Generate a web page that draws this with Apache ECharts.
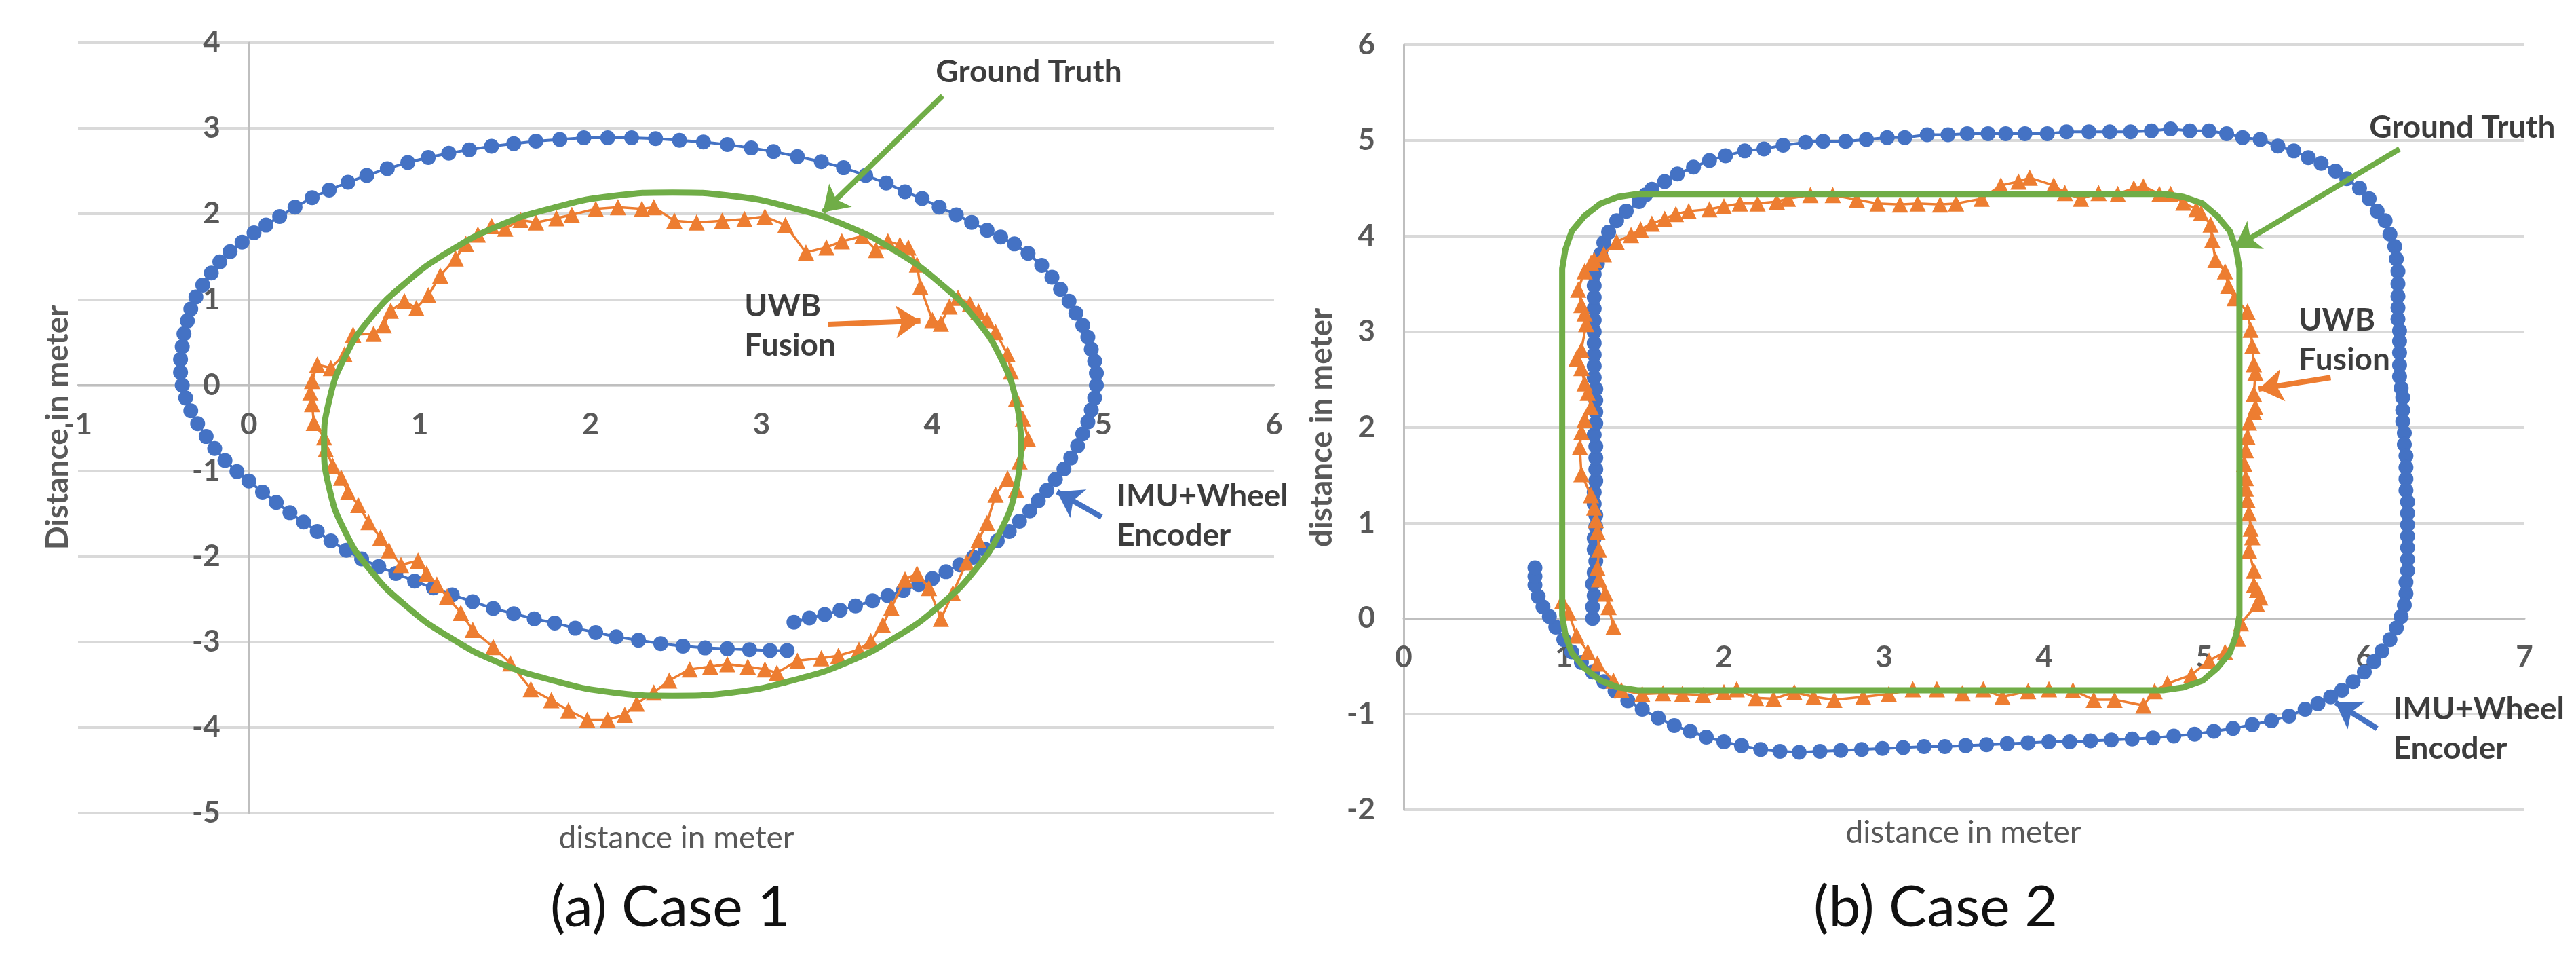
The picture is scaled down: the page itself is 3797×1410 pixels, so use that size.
<!DOCTYPE html>
<html><head><meta charset="utf-8">
<script src="https://cdn.jsdelivr.net/npm/echarts@6/dist/echarts.min.js"></script>
<style>html,body{margin:0;padding:0;background:#fff}#c{width:3797px;height:1410px}</style>
</head><body><div id="c"></div>
<script>
// ---------- Case 1 data (x, y in metres) ----------
const case1Imu = [[3.19,-2.77],[3.28,-2.72],[3.37,-2.68],[3.46,-2.63],[3.55,-2.58],[3.65,-2.52],[3.74,-2.46],[3.83,-2.40],[3.92,-2.33],[4.00,-2.26],[4.08,-2.18],[4.16,-2.10],[4.24,-2.01],[4.31,-1.92],[4.38,-1.82],[4.45,-1.71],[4.51,-1.59],[4.57,-1.47],[4.62,-1.35],[4.67,-1.23],[4.72,-1.10],[4.77,-0.98],[4.81,-0.85],[4.85,-0.71],[4.88,-0.57],[4.91,-0.43],[4.93,-0.29],[4.95,-0.15],[4.96,0.00],[4.96,0.14],[4.95,0.28],[4.93,0.42],[4.91,0.56],[4.88,0.70],[4.84,0.84],[4.80,0.98],[4.75,1.12],[4.70,1.26],[4.64,1.40],[4.56,1.54],[4.48,1.65],[4.40,1.73],[4.32,1.81],[4.23,1.90],[4.14,1.99],[4.04,2.08],[3.94,2.18],[3.84,2.26],[3.73,2.36],[3.61,2.45],[3.48,2.54],[3.35,2.61],[3.21,2.67],[3.07,2.73],[2.94,2.77],[2.80,2.81],[2.66,2.84],[2.52,2.86],[2.38,2.88],[2.24,2.89],[2.10,2.89],[1.96,2.89],[1.82,2.87],[1.68,2.85],[1.55,2.82],[1.42,2.79],[1.29,2.75],[1.17,2.71],[1.05,2.66],[0.93,2.60],[0.81,2.53],[0.69,2.45],[0.58,2.37],[0.47,2.28],[0.37,2.19],[0.27,2.08],[0.18,1.97],[0.10,1.87],[0.03,1.78],[-0.04,1.67],[-0.11,1.56],[-0.17,1.44],[-0.22,1.31],[-0.27,1.17],[-0.31,1.03],[-0.34,0.89],[-0.36,0.75],[-0.38,0.60],[-0.39,0.45],[-0.40,0.30],[-0.40,0.15],[-0.39,0.00],[-0.37,-0.15],[-0.34,-0.30],[-0.30,-0.45],[-0.25,-0.60],[-0.20,-0.74],[-0.14,-0.88],[-0.07,-1.01],[0.00,-1.12],[0.08,-1.25],[0.16,-1.37],[0.24,-1.49],[0.32,-1.60],[0.40,-1.71],[0.48,-1.82],[0.57,-1.93],[0.66,-2.03],[0.76,-2.12],[0.86,-2.20],[0.97,-2.29],[1.08,-2.37],[1.19,-2.45],[1.31,-2.53],[1.43,-2.61],[1.55,-2.67],[1.67,-2.73],[1.79,-2.78],[1.91,-2.84],[2.03,-2.89],[2.15,-2.94],[2.28,-2.98],[2.41,-3.02],[2.54,-3.05],[2.67,-3.07],[2.80,-3.08],[2.93,-3.09],[3.05,-3.10],[3.15,-3.10]];

const case1Uwb = [[0.36,-0.09],[0.37,-0.22],[0.38,-0.44],[0.44,-0.61],[0.45,-0.75],[0.49,-0.94],[0.54,-1.08],[0.58,-1.25],[0.64,-1.40],[0.70,-1.60],[0.77,-1.78],[0.82,-1.93],[0.89,-2.10],[0.99,-2.05],[1.04,-2.20],[1.10,-2.33],[1.16,-2.47],[1.24,-2.66],[1.31,-2.86],[1.43,-3.06],[1.53,-3.25],[1.65,-3.55],[1.77,-3.68],[1.87,-3.80],[1.98,-3.91],[2.10,-3.91],[2.20,-3.85],[2.27,-3.72],[2.37,-3.59],[2.46,-3.45],[2.58,-3.32],[2.70,-3.29],[2.80,-3.26],[2.92,-3.29],[3.02,-3.32],[3.09,-3.36],[3.21,-3.22],[3.35,-3.19],[3.45,-3.16],[3.57,-3.09],[3.64,-2.99],[3.71,-2.80],[3.76,-2.60],[3.84,-2.27],[3.91,-2.20],[3.98,-2.37],[4.05,-2.73],[4.12,-2.43],[4.20,-2.07],[4.27,-1.81],[4.32,-1.61],[4.37,-1.28],[4.44,-1.09],[4.49,-1.22],[4.51,-0.89],[4.56,-0.63],[4.53,-0.39],[4.49,-0.16],[4.46,0.16],[4.44,0.36],[4.37,0.62],[4.32,0.76],[4.27,0.86],[4.22,0.95],[4.15,1.02],[4.10,0.92],[4.05,0.72],[4.00,0.76],[3.93,1.15],[3.91,1.41],[3.86,1.61],[3.81,1.64],[3.74,1.68],[3.67,1.58],[3.59,1.74],[3.47,1.68],[3.38,1.61],[3.26,1.55],[3.14,1.87],[3.02,1.97],[2.90,1.94],[2.77,1.92],[2.62,1.90],[2.49,1.92],[2.37,2.08],[2.30,2.06],[2.16,2.08],[2.03,2.06],[1.89,1.99],[1.80,1.95],[1.68,1.90],[1.59,1.93],[1.50,1.83],[1.42,1.86],[1.34,1.76],[1.27,1.65],[1.21,1.48],[1.12,1.28],[1.05,1.05],[0.98,0.90],[0.91,0.98],[0.83,0.87],[0.79,0.70],[0.73,0.60],[0.61,0.59],[0.56,0.36],[0.48,0.20],[0.40,0.24],[0.37,0.05]];

const case1Truth = [[4.52,-0.69],[4.49,-0.18],[4.40,0.32],[4.25,0.78],[4.04,1.20],[3.79,1.56],[3.50,1.86],[3.18,2.07],[2.83,2.21],[2.48,2.25],[2.13,2.21],[1.78,2.07],[1.46,1.86],[1.17,1.56],[0.92,1.20],[0.71,0.78],[0.56,0.32],[0.47,-0.18],[0.44,-0.69],[0.47,-1.20],[0.56,-1.70],[0.71,-2.16],[0.92,-2.58],[1.17,-2.94],[1.46,-3.24],[1.78,-3.45],[2.13,-3.59],[2.48,-3.63],[2.83,-3.59],[3.18,-3.45],[3.50,-3.24],[3.79,-2.94],[4.04,-2.58],[4.25,-2.16],[4.40,-1.70],[4.49,-1.20],[4.52,-0.69]];

// ---------- Case 2 data ----------
const case2Imu = [[1.18,0.00],[1.18,0.12],[1.19,0.24],[1.18,0.36],[1.19,0.48],[1.20,0.60],[1.19,0.72],[1.19,0.84],[1.20,0.96],[1.20,1.08],[1.19,1.20],[1.19,1.32],[1.20,1.44],[1.20,1.56],[1.20,1.68],[1.20,1.80],[1.19,1.92],[1.20,2.04],[1.20,2.16],[1.20,2.28],[1.20,2.40],[1.19,2.52],[1.19,2.64],[1.19,2.76],[1.19,2.88],[1.19,3.00],[1.19,3.12],[1.19,3.24],[1.19,3.36],[1.19,3.48],[1.19,3.60],[1.21,3.71],[1.23,3.81],[1.25,3.93],[1.28,4.04],[1.33,4.16],[1.39,4.26],[1.47,4.36],[1.51,4.43],[1.55,4.49],[1.63,4.57],[1.71,4.65],[1.81,4.72],[1.91,4.79],[2.01,4.84],[2.13,4.89],[2.25,4.91],[2.37,4.95],[2.51,4.98],[2.62,4.99],[2.76,4.99],[2.89,5.01],[3.02,5.03],[3.13,5.03],[3.27,5.06],[3.40,5.06],[3.52,5.07],[3.65,5.07],[3.76,5.07],[3.88,5.07],[4.02,5.07],[4.14,5.09],[4.28,5.09],[4.41,5.09],[4.54,5.09],[4.67,5.10],[4.79,5.12],[4.91,5.10],[5.03,5.10],[5.14,5.07],[5.24,5.03],[5.35,5.01],[5.46,4.94],[5.56,4.89],[5.65,4.82],[5.73,4.76],[5.82,4.68],[5.89,4.60],[5.97,4.50],[6.03,4.39],[6.08,4.26],[6.13,4.16],[6.16,4.02],[6.19,3.89],[6.20,3.76],[6.21,3.63],[6.21,3.50],[6.21,3.37],[6.21,3.25],[6.21,3.13],[6.22,3.01],[6.22,2.90],[6.22,2.78],[6.22,2.65],[6.22,2.53],[6.23,2.41],[6.24,2.31],[6.24,2.18],[6.24,2.06],[6.25,1.94],[6.25,1.82],[6.26,1.70],[6.26,1.58],[6.26,1.46],[6.26,1.34],[6.27,1.22],[6.27,1.10],[6.27,0.98],[6.27,0.86],[6.27,0.74],[6.27,0.62],[6.27,0.50],[6.26,0.38],[6.26,0.26],[6.25,0.14],[6.23,0.02],[6.20,-0.10],[6.16,-0.22],[6.11,-0.34],[6.06,-0.45],[6.00,-0.56],[5.93,-0.66],[5.86,-0.75],[5.79,-0.82],[5.71,-0.89],[5.63,-0.95],[5.53,-1.02],[5.42,-1.07],[5.30,-1.11],[5.18,-1.15],[5.06,-1.18],[4.94,-1.21],[4.81,-1.23],[4.68,-1.25],[4.55,-1.26],[4.42,-1.27],[4.29,-1.28],[4.16,-1.29],[4.03,-1.29],[3.90,-1.30],[3.77,-1.31],[3.64,-1.32],[3.51,-1.33],[3.38,-1.34],[3.25,-1.34],[3.12,-1.35],[2.99,-1.36],[2.86,-1.37],[2.73,-1.38],[2.60,-1.39],[2.47,-1.40],[2.35,-1.39],[2.23,-1.37],[2.11,-1.33],[2.00,-1.29],[1.89,-1.24],[1.79,-1.18],[1.69,-1.12],[1.59,-1.04],[1.49,-0.95],[1.40,-0.86],[1.32,-0.76],[1.25,-0.66],[1.18,-0.56],[1.11,-0.46],[1.05,-0.35],[1.00,-0.22],[0.95,-0.09],[0.91,0.02],[0.87,0.12],[0.84,0.23],[0.82,0.35],[0.82,0.44],[0.82,0.53]];

const case2Uwb = [[0.99,0.18],[1.03,0.06],[1.08,-0.18],[1.15,-0.35],[1.21,-0.47],[1.31,-0.65],[1.36,-0.75],[1.49,-0.79],[1.62,-0.78],[1.74,-0.79],[1.87,-0.80],[2.00,-0.77],[2.08,-0.74],[2.20,-0.83],[2.31,-0.84],[2.44,-0.77],[2.56,-0.82],[2.69,-0.85],[2.87,-0.82],[3.03,-0.79],[3.18,-0.74],[3.33,-0.74],[3.49,-0.78],[3.62,-0.74],[3.74,-0.82],[3.90,-0.76],[4.03,-0.74],[4.18,-0.75],[4.31,-0.85],[4.44,-0.85],[4.62,-0.91],[4.69,-0.76],[4.77,-0.68],[4.92,-0.59],[5.03,-0.44],[5.13,-0.35],[5.21,-0.21],[5.23,-0.05],[5.33,0.15],[5.35,0.22],[5.33,0.30],[5.31,0.35],[5.31,0.50],[5.28,0.71],[5.30,0.85],[5.29,0.94],[5.28,1.10],[5.27,1.24],[5.26,1.36],[5.26,1.47],[5.25,1.62],[5.26,1.76],[5.27,1.90],[5.28,2.05],[5.31,2.16],[5.32,2.21],[5.31,2.35],[5.32,2.57],[5.31,2.66],[5.30,2.85],[5.29,3.02],[5.27,3.21],[5.19,3.35],[5.15,3.48],[5.13,3.63],[5.07,3.75],[5.05,3.96],[5.04,4.12],[4.98,4.24],[4.95,4.28],[4.87,4.35],[4.79,4.44],[4.72,4.44],[4.62,4.52],[4.56,4.50],[4.46,4.44],[4.34,4.45],[4.23,4.39],[4.13,4.45],[4.06,4.53],[3.91,4.61],[3.84,4.57],[3.73,4.53],[3.61,4.39],[3.45,4.34],[3.35,4.33],[3.21,4.34],[3.10,4.33],[2.96,4.34],[2.83,4.38],[2.68,4.43],[2.54,4.43],[2.40,4.39],[2.33,4.36],[2.21,4.34],[2.10,4.34],[2.00,4.31],[1.91,4.28],[1.78,4.26],[1.70,4.23],[1.63,4.18],[1.55,4.13],[1.48,4.07],[1.42,4.01],[1.33,3.94],[1.25,3.81],[1.19,3.75],[1.17,3.72],[1.13,3.63],[1.09,3.44],[1.11,3.28],[1.13,3.19],[1.14,3.08],[1.11,2.81],[1.08,2.72],[1.11,2.62],[1.13,2.46],[1.15,2.36],[1.17,2.21],[1.13,2.08],[1.11,1.95],[1.10,1.79],[1.11,1.51],[1.17,1.29],[1.19,1.16],[1.20,1.03],[1.21,0.91],[1.22,0.72],[1.21,0.53],[1.22,0.41],[1.26,0.26],[1.28,0.12],[1.31,-0.09]];

const case2Truth = [[0.99,0.03],[0.99,3.66],[1.01,3.86],[1.05,4.05],[1.13,4.21],[1.23,4.34],[1.34,4.41],[1.46,4.44],[4.75,4.44],[4.87,4.41],[4.99,4.34],[5.08,4.21],[5.16,4.05],[5.20,3.86],[5.22,3.66],[5.22,0.03],[5.20,-0.17],[5.16,-0.36],[5.08,-0.52],[4.99,-0.65],[4.87,-0.72],[4.75,-0.75],[1.46,-0.75],[1.34,-0.72],[1.23,-0.65],[1.13,-0.52],[1.05,-0.36],[1.01,-0.17],[0.99,0.03]];

// ---------- Axis ranges ----------
const case1XRange = [-1, 6], case1YRange = [-5, 4];
const case2XRange = [0, 7], case2YRange = [-2, 6];

// ---------- Annotations (data coordinates) ----------
const case1Labels = [[4.02,3.66,'Ground Truth'],[2.90,0.69,'UWB\nFusion'],[5.08,-1.53,'IMU+Wheel\nEncoder']];
const case1Arrows = [[[4.06,3.38],[3.36,2.02],'#70AD47'],[[3.39,0.71],[3.93,0.75],'#ED7D31'],[[4.99,-1.54],[4.73,-1.245],'#4472C4']];
const case2Labels = [[6.03,5.13,'Ground Truth'],[5.59,2.91,'UWB\nFusion'],[6.18,-1.16,'IMU+Wheel\nEncoder']];
const case2Arrows = [[[6.22,4.91],[5.19,3.88],'#70AD47'],[[5.79,2.52],[5.34,2.40],'#ED7D31'],[[6.08,-1.15],[5.82,-0.88],'#4472C4']];

const BLUE = '#4472C4', ORANGE = '#ED7D31', GREEN = '#70AD47';
const FONT = 'Lato, "Open Sans", sans-serif';
const W = 3797, H = 1410;
const grids = [
  { left: 115, right: 1919, top: 63, bottom: 212 },
  { left: 2069, right: 76, top: 66, bottom: 217 }
];

// axis lines cross at zero: shift the axes inside the grid by the zero position
function xAxis(gi, r, yr) {
  const g = grids[gi], h = H - g.top - g.bottom;
  const off = -(0 - yr[0]) / (yr[1] - yr[0]) * h;
  return { gridIndex: gi, type: 'value', min: r[0], max: r[1], interval: 1, position: 'bottom', offset: off,
    axisLine: { show: true, onZero: false, lineStyle: { color: '#bfbfbf', width: 3 } },
    axisTick: { show: false }, splitLine: { show: false },
    axisLabel: { margin: 36, color: '#595959', fontFamily: FONT, fontWeight: 'bold', fontSize: 44 } };
}
function yAxis(gi, r, xr) {
  const g = grids[gi], w = W - g.left - g.right;
  const off = -(0 - xr[0]) / (xr[1] - xr[0]) * w;
  return { gridIndex: gi, type: 'value', min: r[0], max: r[1], interval: 1, position: 'left', offset: off,
    axisLine: { show: true, onZero: false, lineStyle: { color: '#bfbfbf', width: 3 } },
    axisTick: { show: false },
    splitLine: { show: true, lineStyle: { color: '#d9d9d9', width: 4 } },
    axisLabel: { margin: 42, color: '#595959', fontFamily: FONT, fontWeight: 'bold', fontSize: 44 } };
}
function imu(gi, data) {
  return { type: 'line', xAxisIndex: gi, yAxisIndex: gi, data, symbol: 'circle', symbolSize: 22,
    lineStyle: { color: BLUE, width: 4 }, itemStyle: { color: BLUE }, z: 3 };
}
function uwb(gi, data) {
  return { type: 'line', xAxisIndex: gi, yAxisIndex: gi, data, symbol: 'triangle', symbolSize: 24,
    lineStyle: { color: ORANGE, width: 3.5 }, itemStyle: { color: ORANGE }, z: 4 };
}
function truth(gi, data, smooth) {
  return { type: 'line', xAxisIndex: gi, yAxisIndex: gi, data, showSymbol: false, symbol: 'none', smooth,
    lineStyle: { color: GREEN, width: 9 }, z: 5 };
}
function notes(gi, labels) {
  return { type: 'scatter', xAxisIndex: gi, yAxisIndex: gi, z: 6,
    data: labels.map(l => [l[0], l[1], l[2]]), symbolSize: 0.1, itemStyle: { color: 'rgba(0,0,0,0)' },
    label: { show: true, position: 'right', distance: 0, formatter: p => p.data[2],
      color: '#0d0d0d', fontFamily: FONT, fontWeight: 'bold', fontSize: 46, lineHeight: 58, align: 'left' } };
}
function arrow(gi, a) {
  return { type: 'line', xAxisIndex: gi, yAxisIndex: gi, data: [], z: 7, silent: true,
    itemStyle: { color: a[2] }, lineStyle: { color: a[2] },
    markLine: { silent: true, symbol: ['none', 'arrow'], symbolSize: 36, symbolOffset: 0, label: { show: false },
      lineStyle: { color: a[2], width: 8, type: 'solid', opacity: 1 }, itemStyle: { color: a[2] },
      emphasis: { disabled: true },
      data: [[{ coord: a[0] }, { coord: a[1] }]] } };
}
function txt(x, y, text, size, weight, fill, rot) {
  return { type: 'text', x, y, rotation: rot || 0, z: 10,
    style: { text, fontSize: size, fontFamily: FONT, fontWeight: weight, fill, align: 'center', verticalAlign: 'middle' } };
}

const chart = echarts.init(document.getElementById('c'), null, { renderer: 'canvas' });
chart.setOption({
  animation: false,
  backgroundColor: '#ffffff',
  grid: grids,
  xAxis: [xAxis(0, case1XRange, case1YRange), xAxis(1, case2XRange, case2YRange)],
  yAxis: [yAxis(0, case1YRange, case1XRange), yAxis(1, case2YRange, case2XRange)],
  series: [
    imu(0, case1Imu), uwb(0, case1Uwb), truth(0, case1Truth, true), notes(0, case1Labels),
    ...case1Arrows.map(a => arrow(0, a)),
    imu(1, case2Imu), uwb(1, case2Uwb), truth(1, case2Truth, false), notes(1, case2Labels),
    ...case2Arrows.map(a => arrow(1, a))
  ],
  graphic: [
    txt(85, 630, 'Distance in meter', 46, 'bold', '#595959', Math.PI / 2),
    txt(1948, 630, 'distance in meter', 46, 'bold', '#595959', Math.PI / 2),
    txt(997, 1235, 'distance in meter', 46, 'normal', '#595959'),
    txt(2894, 1227, 'distance in meter', 46, 'normal', '#595959'),
    txt(988, 1338, '(a) Case 1', 84, 'normal', '#111111'),
    txt(2853, 1338, '(b) Case 2', 84, 'normal', '#111111')
  ]
});
</script></body></html>
